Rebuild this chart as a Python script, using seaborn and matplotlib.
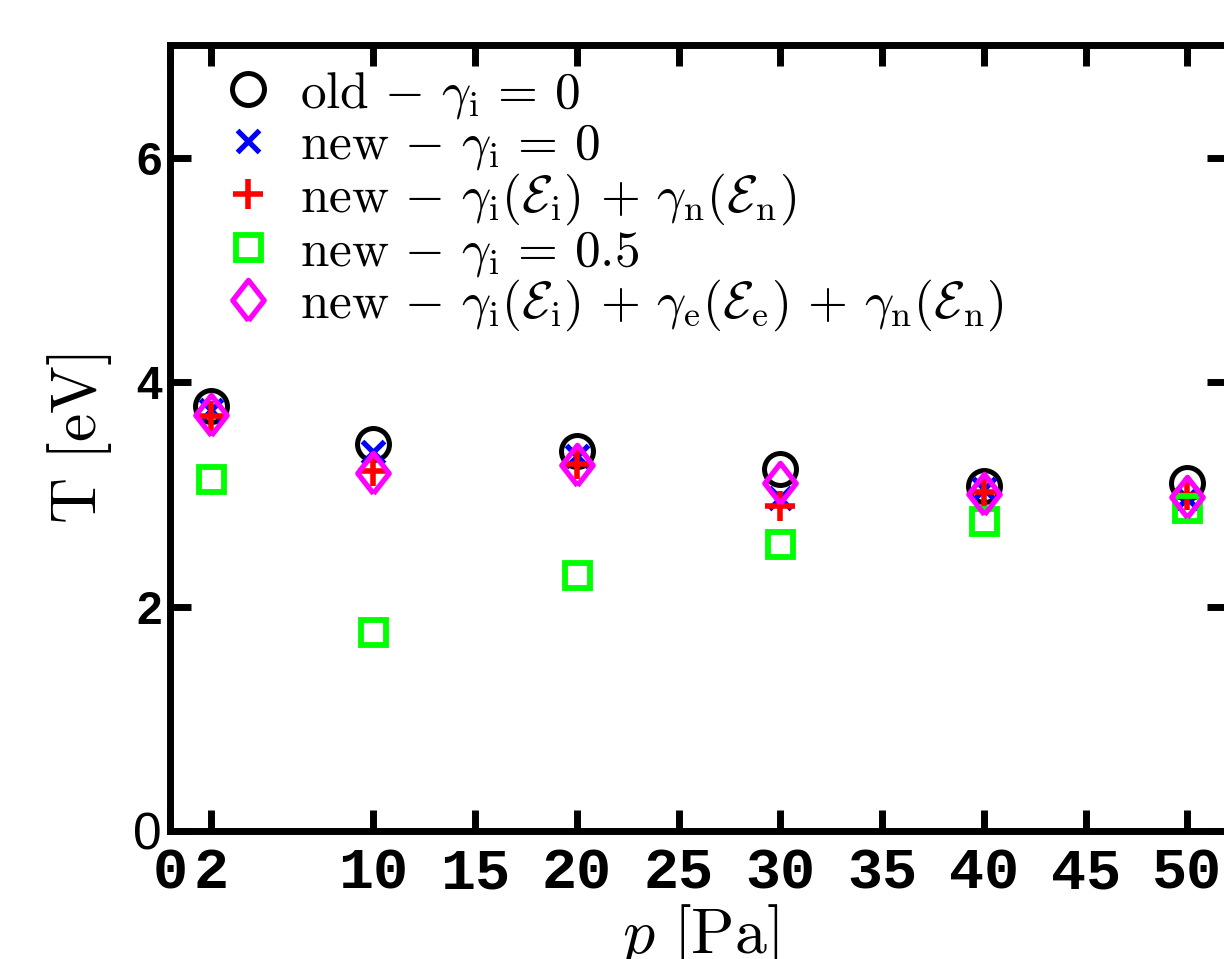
import numpy as np
import pandas as pd
import matplotlib
matplotlib.use("Agg")
import matplotlib.pyplot as plt
import seaborn as sns

# ---- data ----
pressure = [2, 10, 20, 30, 40, 50]
old_gamma0 = [3.79, 3.45, 3.39, 3.23, 3.075, 3.105]
new_gamma0 = [3.75, 3.38, 3.34, 2.97, 3.05, 2.97]
new_gi_gn = [3.70, 3.21, 3.27, 2.90, 3.02, 2.99]
new_gamma05 = [3.14, 1.77, 2.28, 2.56, 2.76, 2.88]
new_gi_ge_gn = [3.71, 3.19, 3.26, 3.10, 3.00, 2.98]

labels = [
    r"$\mathrm{old}\,-\,\gamma_\mathrm{i}\,=\,0$",
    r"$\mathrm{new}\,-\,\gamma_\mathrm{i}\,=\,0$",
    r"$\mathrm{new}\,-\,\gamma_\mathrm{i}(\mathcal{E}_\mathrm{i})\,+\,\gamma_\mathrm{n}(\mathcal{E}_\mathrm{n})$",
    r"$\mathrm{new}\,-\,\gamma_\mathrm{i}\,=\,0.5$",
    r"$\mathrm{new}\,-\,\gamma_\mathrm{i}(\mathcal{E}_\mathrm{i})\,+\,\gamma_\mathrm{e}(\mathcal{E}_\mathrm{e})\,+\,\gamma_\mathrm{n}(\mathcal{E}_\mathrm{n})$",
]
x_ticks = [0, 2, 10, 15, 20, 25, 30, 35, 40, 45, 50]
y_ticks = [0, 2, 4, 6]

sns.set_theme(style="white")
plt.rcParams["mathtext.fontset"] = "cm"
plt.rcParams["font.family"] = ["DejaVu Sans"]
plt.rcParams["text.color"] = "black"
plt.rcParams["axes.labelcolor"] = "black"
plt.rcParams["xtick.color"] = "black"
plt.rcParams["ytick.color"] = "black"

fig = plt.figure(figsize=(12.24, 9.59), dpi=100)
W, H = 1224, 959
x0, x1, ytop, ybot = 170, 1228, 45.5, 831
ax = fig.add_axes([x0 / W, (H - ybot) / H, (x1 - x0) / W, (ybot - ytop) / H])

diamond = [(0, -1), (0.78, 0), (0, 1), (-0.78, 0), (0, -1)]
styles = [
    dict(marker="o", ms=23, mec="black", mfc="none", mew=3.6),
    dict(marker="x", ms=16, mec="blue", mfc="none", mew=3.8),
    dict(marker="+", ms=21, mec="red", mfc="none", mew=4.0),
    dict(marker="s", ms=18, mec="#00ff00", mfc="none", mew=4.2),
    dict(marker=diamond, ms=29, mec="magenta", mfc="none", mew=3.8),
]
series = [old_gamma0, new_gamma0, new_gi_gn, new_gamma05, new_gi_ge_gn]

for vals, lab, st in zip(series, labels, styles):
    df = pd.DataFrame({"p": pressure, "T": vals})
    sns.lineplot(data=df, x="p", y="T", ax=ax, linestyle="none", sort=False,
                 label=lab, color=st["mec"], marker=st["marker"],
                 markersize=st["ms"], markeredgecolor=st["mec"],
                 markerfacecolor=st["mfc"], markeredgewidth=st["mew"])

ax.set_xlim(0, 52)
ax.set_ylim(0, 7)
ax.set_xticks(x_ticks)
ax.set_yticks(y_ticks)
ax.set_xticklabels([str(t) for t in x_ticks], family="Liberation Mono",
                   fontweight="bold", fontsize=42, color="black")
ax.set_yticklabels([str(t) for t in y_ticks], family="Liberation Sans",
                   fontweight="bold", fontsize=33, color="black")
ax.get_yticklabels()[0].set_fontweight("normal")
ax.get_yticklabels()[0].set_fontsize(37)

ax.tick_params(axis="both", direction="in", length=15, width=5, color="black",
               top=True, right=True, bottom=True, left=True)
ax.tick_params(axis="x", pad=11)
ax.tick_params(axis="y", pad=6)
for sp in ax.spines.values():
    sp.set_linewidth(5)
    sp.set_color("black")
    sp.set_visible(True)

ax.set_xlabel(r"$p\ [\mathrm{Pa}]$", fontsize=46, labelpad=1, color="black")
ax.set_ylabel(r"$\mathrm{T\ [eV]}$", fontsize=46, labelpad=14, color="black")

leg = ax.legend(loc="upper left", bbox_to_anchor=(0.02, 1.010), frameon=False,
                fontsize=37, handlelength=1.0, handletextpad=0.52,
                labelspacing=-0.02, borderaxespad=0.2)
for t in leg.get_texts():
    t.set_color("black")

fig.savefig("out.png", dpi=100)
